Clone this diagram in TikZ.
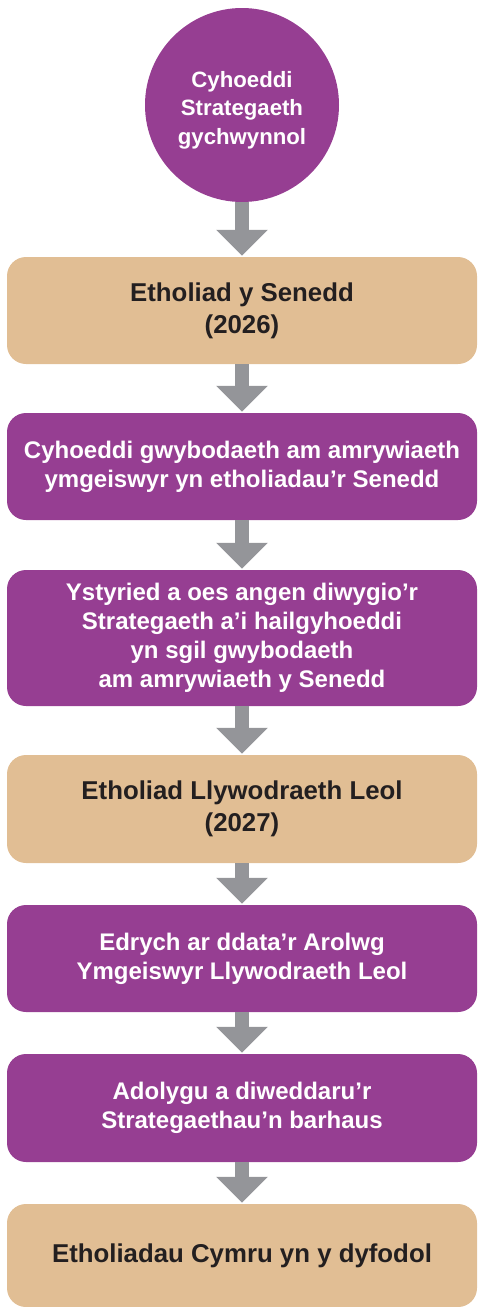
\documentclass[tikz,border=0pt]{standalone}
\usepackage{fontspec}
\setmainfont{Liberation Sans}
\usetikzlibrary{arrows.meta}
\definecolor{purp}{RGB}{150,62,146}
\definecolor{tanbox}{RGB}{225,190,148}
\definecolor{arrowgray}{RGB}{148,149,153}
\definecolor{darktext}{RGB}{35,31,32}
\begin{document}
\begin{tikzpicture}[x=1pt,y=1pt,
  box/.style={rounded corners=19pt, minimum width=470pt, align=center, inner sep=0pt},
  pbox/.style={box, fill=purp, text=white, font=\bfseries\fontsize{24}{29}\selectfont},
  tbox/.style={box, fill=tanbox, text=darktext, font=\bfseries\fontsize{25.8}{32}\selectfont},
  flow/.style={draw=arrowgray, line width=14pt, -{Triangle[width=50pt,length=26pt]}, shorten >=1pt}]
\useasboundingbox (0,0) rectangle (477,-1307);
\node[circle, fill=purp, minimum size=194pt, inner sep=0pt,
      label={[text=white, align=center, yshift=-5pt, font=\bfseries\fontsize{22.2}{28.5}\selectfont]center:Cyhoeddi\\Strategaeth\\gychwynnol}] (c0) at (242,-105) {};
\node[tbox, minimum height=107pt] (b1) at (242,-310.5) {Etholiad y Senedd\\(2026)};
\node[pbox, minimum height=107pt] (b2) at (242,-466.5) {Cyhoeddi gwybodaeth am amrywiaeth\\ymgeiswyr yn etholiadau’r Senedd};
\node[pbox, minimum height=136pt] (b3) at (242,-638) {Ystyried a oes angen diwygio’r\\Strategaeth a’i hailgyhoeddi\\yn sgil gwybodaeth\\am amrywiaeth y Senedd};
\node[tbox, minimum height=108pt] (b4) at (242,-809) {Etholiad Llywodraeth Leol\\(2027)};
\node[pbox, minimum height=107pt] (b5) at (242,-958.5) {Edrych ar ddata’r Arolwg\\Ymgeiswyr Llywodraeth Leol};
\node[pbox, minimum height=108pt] (b6) at (242,-1108) {Adolygu a diweddaru’r\\Strategaethau’n barhaus};
\node[tbox, minimum height=103pt] (b7) at (242,-1255.5) {Etholiadau Cymru yn y dyfodol};
\draw[flow] (c0.south) -- (b1.north);
\draw[flow] (b1.south) -- (b2.north);
\draw[flow] (b2.south) -- (b3.north);
\draw[flow] (b3.south) -- (b4.north);
\draw[flow] (b4.south) -- (b5.north);
\draw[flow] (b5.south) -- (b6.north);
\draw[flow] (b6.south) -- (b7.north);
\end{tikzpicture}
\end{document}
